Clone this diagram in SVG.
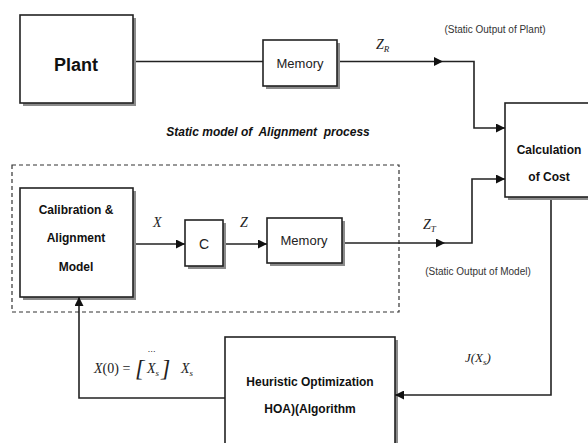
<svg xmlns="http://www.w3.org/2000/svg" width="588" height="443" viewBox="0 0 588 443">
<defs>
<marker id="ah" viewBox="0 0 10 10" refX="10" refY="5" markerWidth="9" markerHeight="9" markerUnits="userSpaceOnUse" orient="auto">
<path d="M0,0 L10,5 L0,10 z" fill="#111"/>
</marker>
<style>
.box{fill:#fff;stroke:#222;stroke-width:1.6}
.sh{fill:#777;opacity:0.85}
.ln{fill:none;stroke:#222;stroke-width:1.6}
.lb{font-family:"Liberation Sans",Arial,sans-serif;font-weight:bold;fill:#111;text-anchor:middle}
.rg{font-family:"Liberation Sans",Arial,sans-serif;fill:#222;text-anchor:middle}
.note{font-family:"Liberation Sans",Arial,sans-serif;font-size:10px;fill:#333;text-anchor:middle}
.m{font-family:"Liberation Serif","Times New Roman",serif;font-style:italic;fill:#222}
</style>
</defs>
<rect width="588" height="443" fill="#fff"/>

<g id="plant">
<rect class="sh" x="23" y="18" width="113" height="88"/>
<rect class="box" x="20" y="15" width="113" height="88"/>
<text class="lb" x="76" y="71" font-size="18">Plant</text>
</g>

<g id="memory1">
<rect class="sh" x="266" y="43" width="74" height="46"/>
<rect class="box" x="263" y="40" width="74" height="46"/>
<text class="rg" x="300" y="68" font-size="13">Memory</text>
</g>

<g id="calc">
<rect class="sh" x="508" y="106" width="90" height="94"/>
<rect class="box" x="505" y="103" width="90" height="94"/>
<text class="lb" x="549" y="154" font-size="12">Calculation</text>
<text class="lb" x="549" y="181" font-size="12">of Cost</text>
</g>

<g id="static-model">
<rect x="12" y="165" width="387" height="147" fill="none" stroke="#333" stroke-width="1.2" stroke-dasharray="4,3"/>
<text class="lb" x="268" y="136" font-size="12" font-style="italic" style="white-space:pre">Static model of  Alignment  process</text>
</g>

<g id="calibration">
<rect class="sh" x="23" y="191" width="113" height="109"/>
<rect class="box" x="20" y="188" width="113" height="109"/>
<text class="lb" x="76" y="214" font-size="12">Calibration &amp;</text>
<text class="lb" x="76" y="242" font-size="12">Alignment</text>
<text class="lb" x="76" y="271" font-size="12">Model</text>
</g>

<g id="c">
<rect class="sh" x="188" y="223" width="38" height="46"/>
<rect class="box" x="185" y="220" width="38" height="46"/>
<text class="rg" x="204" y="249" font-size="14">C</text>
</g>

<g id="memory2">
<rect class="sh" x="270" y="221" width="75" height="45"/>
<rect class="box" x="267" y="218" width="75" height="45"/>
<text class="rg" x="304" y="245" font-size="13">Memory</text>
</g>

<g id="hoa">
<rect class="sh" x="228" y="340" width="170" height="110"/>
<rect class="box" x="225" y="337" width="170" height="110"/>
<text class="lb" x="310" y="386" font-size="12">Heuristic Optimization</text>
<text class="lb" x="310" y="413" font-size="12">HOA)(Algorithm</text>
</g>

<g id="connectors">
<line class="ln" x1="136" y1="61.5" x2="263" y2="61.5"/>
<line class="ln" x1="340" y1="61.5" x2="443" y2="61.5" marker-end="url(#ah)"/>
<polyline class="ln" points="443,61.5 474,61.5 474,128 505,128" marker-end="url(#ah)"/>
<line class="ln" x1="136" y1="244" x2="185" y2="244" marker-end="url(#ah)"/>
<line class="ln" x1="226" y1="244" x2="267" y2="244" marker-end="url(#ah)"/>
<line class="ln" x1="345" y1="243" x2="445" y2="243" marker-end="url(#ah)"/>
<polyline class="ln" points="445,243 472,243 472,179 505,179" marker-end="url(#ah)"/>
<polyline class="ln" points="551,200 551,395 395,395" marker-end="url(#ah)"/>
<polyline class="ln" points="225,398 79,398 79,297" marker-end="url(#ah)"/>
</g>

<g id="labels">
<text class="note" x="495" y="33">(Static Output of Plant)</text>
<text class="note" x="478" y="275">(Static Output of Model)</text>
<text class="m" x="376" y="49" font-size="14">Z<tspan font-size="9" dy="3">R</tspan></text>
<text class="m" x="423" y="229" font-size="14">Z<tspan font-size="9" dy="3">T</tspan></text>
<text class="m" x="153" y="227" font-size="14">X</text>
<text class="m" x="240" y="227" font-size="14">Z</text>
<text class="m" x="465" y="362" font-size="13">J(X<tspan font-size="9" dy="3">s</tspan><tspan dy="-3">)</tspan></text>
<text class="m" x="94" y="373" font-size="14">X<tspan font-style="normal">(0) = </tspan></text>
<text class="m" x="135" y="376" font-size="24" font-style="normal">[</text>
<text class="m" x="147" y="354" font-size="8" font-style="normal">⋯</text>
<text class="m" x="147" y="373" font-size="14">X<tspan font-size="9" dy="3">s</tspan></text>
<text class="m" x="161" y="376" font-size="24" font-style="normal">]</text>
<text class="m" x="181" y="373" font-size="14">X<tspan font-size="9" dy="3">s</tspan></text>
</g>
</svg>
